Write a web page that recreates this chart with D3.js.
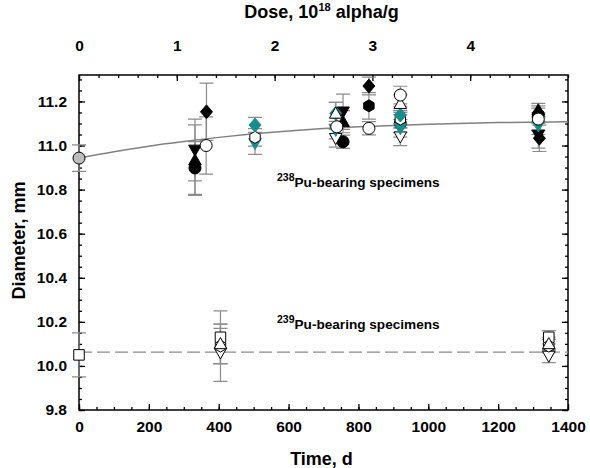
<!DOCTYPE html>
<html>
<head>
<meta charset="utf-8">
<script src="https://cdn.jsdelivr.net/npm/d3@7"></script>
<style>
  body { margin: 0; background: #fff; }
  svg text { font-family: "Liberation Sans", Arial, Helvetica, sans-serif; font-weight: bold; }
</style>
</head>
<body>
<svg id="chart" width="590" height="468"></svg>
<script>
// ---- data: [time d, diameter mm, +/- error mm]
const timeTicks = [0, 200, 400, 600, 800, 1000, 1200, 1400];
const diamTicks = [9.8, 10.0, 10.2, 10.4, 10.6, 10.8, 11.0, 11.2];
const doseTicks = [0, 1, 2, 3, 4];

const fitTime = [0, 100, 200, 300, 400, 500, 600, 700, 800, 900, 1000, 1200, 1400];
const fitDiam = [10.943, 10.972, 10.997, 11.018, 11.037, 11.053, 11.066, 11.077, 11.085, 11.091, 11.096, 11.104, 11.108];

const pu239Level = 10.063;

const pu238Series = [
  { name: 'start238', points: [[0, 10.943, 0.06]] },
  { name: 'blackCircle', points: [[332, 10.898, 0.12], [756, 11.017, 0.03], [920, 11.10, 0.04], [1315, 11.14, 0.04]] },
  { name: 'blackUpTri', points: [[332, 10.934, 0.16], [756, 11.108, 0.05], [1315, 11.161, 0.03]] },
  { name: 'blackDownTri', points: [[332, 10.98, 0.14], [756, 11.153, 0.08], [1315, 11.048, 0.06]] },
  { name: 'blackDiamond', points: [[365, 11.153, 0.13], [830, 11.27, 0.04], [1318, 11.033, 0.06]] },
  { name: 'blackHexagon', points: [[830, 11.18, 0.06], [920, 11.108, 0.05]] },
  { name: 'openDownTri', points: [[735, 11.033, 0.04], [920, 11.04, 0.04]] },
  { name: 'tealDownTri', points: [[504, 11.01, 0.05], [735, 11.07, 0.04], [920, 11.078, 0.04], [1315, 11.09, 0.04]] },
  { name: 'openHexagon', points: [[504, 11.037, 0.04], [920, 11.12, 0.04]] },
  { name: 'tealDiamond', points: [[504, 11.093, 0.035], [735, 11.146, 0.05], [920, 11.138, 0.04], [1315, 11.108, 0.04]] },
  { name: 'openUpTri', points: [[735, 11.146, 0.05], [920, 11.19, 0.04]] },
  { name: 'openCircle', points: [[364, 11.0, 0.13], [738, 11.085, 0.04], [830, 11.078, 0.03], [920, 11.229, 0.04], [1315, 11.12, 0.05]] }
];

const pu239Series = [
  { name: 'openSquare', points: [[0, 10.05, 0.10], [405, 10.13, 0.12], [1345, 10.13, 0.03]] },
  { name: 'openDownTri', points: [[405, 10.06, 0.13], [1345, 10.045, 0.03]] },
  { name: 'openHexagon', points: [[405, 10.09, 0.08], [1345, 10.09, 0.03]] },
  { name: 'openUpTri', points: [[405, 10.10, 0.09], [1345, 10.10, 0.03]] }
];

// ---- styles
const teal = '#1b8c8c';
const markerStyle = {
  start238: { shape: 'circle', fill: '#bdbdbd' },
  blackCircle: { shape: 'circle', fill: '#000' },
  blackUpTri: { shape: 'triUp', fill: '#000' },
  blackDownTri: { shape: 'triDown', fill: '#000' },
  blackDiamond: { shape: 'diamond', fill: '#000' },
  blackHexagon: { shape: 'hexagon', fill: '#000' },
  openDownTri: { shape: 'triDown', fill: '#fff' },
  tealDownTri: { shape: 'triDown', fill: teal, stroke: teal },
  openHexagon: { shape: 'hexagon', fill: '#fff' },
  tealDiamond: { shape: 'diamond', fill: teal, stroke: teal },
  openUpTri: { shape: 'triUp', fill: '#fff' },
  openCircle: { shape: 'circle', fill: '#fff' },
  openSquare: { shape: 'square', fill: '#fff' }
};

const svg = d3.select('#chart');
const margin = { top: 75, right: 22, bottom: 58, left: 79 };
const width = +svg.attr('width');
const height = +svg.attr('height');

const xScale = d3.scaleLinear().domain([0, 1400]).range([margin.left, width - margin.right]);
const doseScale = d3.scaleLinear().domain([0, 5.0]).range([margin.left, width - margin.right]);
const yScale = d3.scaleLinear().domain([9.8, 11.32]).range([height - margin.bottom, margin.top]);

const x0 = margin.left, x1 = width - margin.right;
const y0 = height - margin.bottom, y1 = margin.top;

//marker shapes, r is roughly the half size
const markerPath = (shape, r) => {
  if (shape === 'circle') return d3.symbol(d3.symbolCircle, Math.PI * r * r)();
  if (shape === 'square') return d3.symbol(d3.symbolSquare, (1.75 * r) * (1.75 * r))();
  if (shape === 'diamond') return `M0,${-r * 1.15}L${r},0L0,${r * 1.15}L${-r},0Z`;
  if (shape === 'triUp') return `M0,${-r * 1.05}L${r * 1.05},${r * 0.8}L${-r * 1.05},${r * 0.8}Z`;
  if (shape === 'triDown') return `M0,${r * 1.05}L${r * 1.05},${-r * 0.8}L${-r * 1.05},${-r * 0.8}Z`;
  if (shape === 'hexagon') {
    const pts = d3.range(6).map(k => {
      const a = Math.PI / 6 + k * Math.PI / 3;
      return [r * Math.cos(a), r * Math.sin(a)];
    });
    return 'M' + pts.map(p => p.join(',')).join('L') + 'Z';
  }
};

//axes: minor and major ticks, all pointing inward
const drawAxis = (axisFn, scale, pos, majors, minors, majorLen, minorLen, pad, showLabels, fmt) => {
  const gMinor = svg.append('g').attr('transform', pos);
  gMinor.call(axisFn(scale).tickValues(minors).tickSize(-minorLen).tickFormat(''));
  gMinor.select('.domain').remove();

  const gMajor = svg.append('g').attr('transform', pos);
  gMajor.call(axisFn(scale).tickValues(majors).tickSize(-majorLen).tickPadding(pad)
    .tickFormat(showLabels ? fmt : ''));
  gMajor.select('.domain').remove();
  gMajor.selectAll('text').attr('font-size', 15.5).attr('fill', '#000');
  svg.selectAll('.tick line').attr('stroke', '#000').attr('stroke-width', 1.3);
  return gMajor;
};

const timeMinor = d3.range(0, 1401, 50);
const diamMinor = d3.range(9.8, 11.32, 0.05);
const doseMinor = d3.range(0, 5.01, 0.2);

drawAxis(d3.axisBottom, xScale, `translate(0,${y0})`, timeTicks, timeMinor, 6, 3, 11, true, d3.format('d'));
drawAxis(d3.axisLeft, yScale, `translate(${x0},0)`, diamTicks, diamMinor, 6, 3, 12, true, d3.format('.1f'));
drawAxis(d3.axisRight, yScale, `translate(${x1},0)`, diamTicks, diamMinor, 6, 3, 4, false);
drawAxis(d3.axisTop, doseScale, `translate(0,${y1})`, doseTicks, doseMinor, 6, 3, 24, true, d3.format('d'));

//frame
svg.append('rect')
  .attr('x', x0).attr('y', y1)
  .attr('width', x1 - x0).attr('height', y0 - y1)
  .attr('fill', 'none').attr('stroke', '#000').attr('stroke-width', 1.5);

//axis titles
svg.append('text')
  .attr('x', (x0 + x1) / 2 - 2).attr('y', 465)
  .attr('text-anchor', 'middle').attr('font-size', 18)
  .text('Time, d');

svg.append('text')
  .attr('transform', `translate(25,${(y0 + y1) / 2 - 2}) rotate(-90)`)
  .attr('text-anchor', 'middle').attr('font-size', 18)
  .text('Diameter, mm');

const doseTitle = svg.append('text')
  .attr('x', (x0 + x1) / 2 - 2).attr('y', 18)
  .attr('text-anchor', 'middle').attr('font-size', 18);
doseTitle.append('tspan').text('Dose, 10');
doseTitle.append('tspan').attr('font-size', 11).attr('dy', -7).text('18');
doseTitle.append('tspan').attr('dy', 7).text(' alpha/g');

//group labels
const groupLabel = (iso, yVal) => {
  const t = svg.append('text').attr('x', 277).attr('y', yScale(yVal)).attr('font-size', 13.6);
  t.append('tspan').attr('font-size', 10.5).attr('dy', -6).text(iso);
  t.append('tspan').attr('dy', 6).text('Pu-bearing specimens');
};
groupLabel('238', 10.813);
groupLabel('239', 10.166);

//239Pu mean level
svg.append('line')
  .attr('x1', x0).attr('x2', x1)
  .attr('y1', yScale(pu239Level)).attr('y2', yScale(pu239Level))
  .attr('stroke', '#8a8a8a').attr('stroke-width', 1.3)
  .attr('stroke-dasharray', '13,5');

const allSeries = pu238Series.concat(pu239Series);

//error bars
const errG = svg.append('g').attr('stroke', '#8c8c8c').attr('stroke-width', 1.2).attr('fill', 'none');
allSeries.forEach(s => {
  s.points.forEach(p => {
    const cx = xScale(p[0]);
    const yt = yScale(p[1] + p[2]);
    const yb = yScale(p[1] - p[2]);
    errG.append('path')
      .attr('d', `M${cx},${yt}V${yb}M${cx - 7},${yt}H${cx + 7}M${cx - 7},${yb}H${cx + 7}`);
  });
});

//fit curve through the 238Pu data
const fitLine = d3.line()
  .x((d, i) => xScale(fitTime[i]))
  .y(d => yScale(d))
  .curve(d3.curveMonotoneX);

svg.append('path')
  .attr('d', fitLine(fitDiam))
  .attr('fill', 'none')
  .attr('stroke', '#808080')
  .attr('stroke-width', 1.5);

//markers
allSeries.forEach(s => {
  const st = markerStyle[s.name];
  svg.append('g').selectAll('path')
    .data(s.points)
    .enter().append('path')
      .attr('transform', d => `translate(${xScale(d[0])},${yScale(d[1])})`)
      .attr('d', markerPath(st.shape, 6))
      .attr('fill', st.fill)
      .attr('stroke', st.stroke || '#000')
      .attr('stroke-width', 1);
});
</script>
</body>
</html>
